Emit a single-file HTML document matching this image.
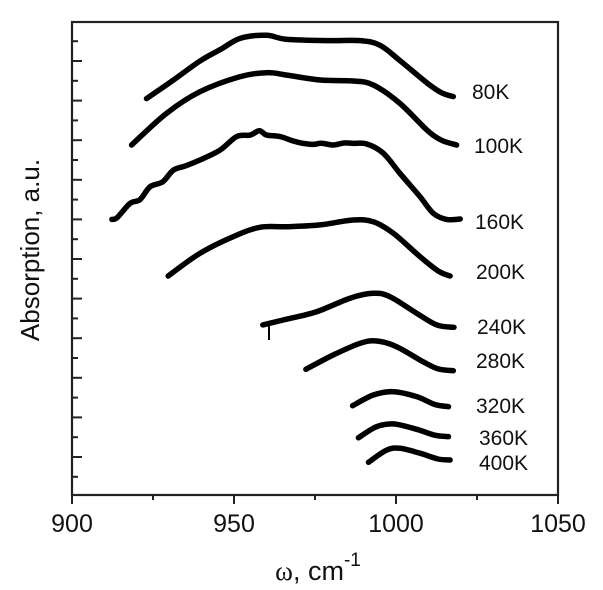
<!DOCTYPE html>
<html><head><meta charset="utf-8"><style>
html,body{margin:0;padding:0;background:#fff;}
svg{display:block;}
text{font-family:"Liberation Sans",Arial,sans-serif;fill:#111;}
</style></head><body>
<svg id="chart" width="603" height="590" viewBox="0 0 603 590" xmlns="http://www.w3.org/2000/svg">
<g id="axes"></g>
<g id="series"></g>
<g id="labels"></g>
<text x="0" y="0" font-size="26" text-anchor="middle" transform="translate(39,250) rotate(-90)">Absorption, a.u.</text>
<text x="318" y="580" font-size="27" text-anchor="middle"><tspan font-family="Liberation Serif, serif">ω</tspan>, cm<tspan font-size="19" dy="-14">-1</tspan></text>
</svg>
<script>
const xTicks = [900, 950, 1000, 1050];
const xMinorTicks = [925, 975, 1025];
const seriesNames = ["80K","100K","160K","200K","240K","280K","320K","360K","400K"];
const s80 = [[923,20.1],[931,21.0],[939.5,22.0],[946,22.6],[952,23.15],[960,23.3],[966,23.1],[979,23.03],[989,23.03],[995,22.8],[1001,22.05],[1009.5,20.9],[1014,20.4],[1017.7,20.2]];
const s100 = [[918.4,17.76],[929.2,19.36],[939.5,20.45],[951.9,21.21],[960.1,21.41],[966.3,21.29],[976.6,21.04],[986.8,20.99],[993,20.79],[1001.2,19.86],[1009.5,18.52],[1014,18.0],[1018.7,17.76]];
const s160 = [[912.3,14.0],[914,14.1],[917.9,14.81],[921,15.0],[924.1,15.65],[928,15.9],[931.3,16.49],[935,16.7],[939.5,17.0],[945.7,17.5],[950.8,18.18],[955,18.26],[957.8,18.48],[960.1,18.26],[964.2,18.18],[968.3,17.96],[971,17.85],[974.5,17.79],[977,17.85],[980.6,17.76],[984,17.86],[986.8,17.84],[991,17.81],[996.1,17.34],[1001.2,16.33],[1007.4,15.15],[1011.5,14.31],[1015.6,14.0],[1019.8,14.02]];
const s200 = [[929.7,11.14],[939.5,12.29],[949.8,13.13],[958,13.6],[966.3,13.63],[976.5,13.72],[986.8,13.97],[993,13.88],[999.2,13.3],[1007.4,12.12],[1013,11.4],[1016.7,11.14]];
const s240 = [[958.9,8.67],[965.2,8.92],[975.5,9.34],[985.8,10.02],[993,10.27],[998.1,10.1],[1006.4,9.26],[1012.6,8.67],[1017.9,8.55]];
const s280 = [[972.2,6.43],[980.6,7.15],[988.9,7.74],[994,7.86],[1000.2,7.57],[1008.4,6.81],[1013,6.45],[1017.7,6.36]];
const s320 = [[986.6,4.59],[993,5.13],[999.2,5.3],[1006.4,5.05],[1012,4.65],[1016.2,4.54]];
const s360 = [[988.4,2.97],[994,3.53],[999.2,3.67],[1006.4,3.4],[1012,3.1],[1016.2,3.03]];
const s400 = [[991.5,1.73],[997.1,2.35],[1001.2,2.44],[1007.4,2.19],[1013,1.9],[1016.7,1.85]];
const allSeries = [s80,s100,s160,s200,s240,s280,s320,s360,s400];
const markerX = 960.8;
const markerV = [8.86, 7.91];

const NS = "http://www.w3.org/2000/svg";
const X0 = 72, X1 = 558, Y0 = 496.6, K = 19.8, TOP = 22, BOT = 495;
function xs(v){ return X0 + (v - 900) / 150 * (X1 - X0); }
function ys(v){ return Y0 - v * K; }
function mk(tag, attrs, parent){ const e = document.createElementNS(NS, tag); for (const k in attrs) e.setAttribute(k, attrs[k]); parent.appendChild(e); return e; }
function smooth(pts){
  let d = 'M' + pts[0][0].toFixed(1) + ',' + pts[0][1].toFixed(1);
  for (let i = 0; i < pts.length - 1; i++) {
    const p0 = pts[Math.max(i-1,0)], p1 = pts[i], p2 = pts[i+1], p3 = pts[Math.min(i+2, pts.length-1)];
    const c1x = p1[0] + (p2[0]-p0[0])/6, c1y = p1[1] + (p2[1]-p0[1])/6;
    const c2x = p2[0] - (p3[0]-p1[0])/6, c2y = p2[1] - (p3[1]-p1[1])/6;
    d += ' C' + c1x.toFixed(1) + ',' + c1y.toFixed(1) + ' ' + c2x.toFixed(1) + ',' + c2y.toFixed(1) + ' ' + p2[0].toFixed(1) + ',' + p2[1].toFixed(1);
  }
  return d;
}

const axes = document.getElementById('axes');
const frame = mk('rect', {x:X0, y:TOP, width:X1-X0, height:BOT-TOP, fill:'none', stroke:'#222', 'stroke-width':2.2}, axes);


xTicks.forEach(t => {
  const l = mk('line', {x1:xs(t), x2:xs(t), y1:BOT, y2:BOT+9, stroke:'#222', 'stroke-width':2}, axes);
  
  
  const tx = mk('text', {x:xs(t), y:532, 'font-size':25, 'text-anchor':'middle'}, axes);
  tx.textContent = t;
  
  
});
xMinorTicks.forEach(t => {
  const l = mk('line', {x1:xs(t), x2:xs(t), y1:BOT, y2:BOT+5, stroke:'#222', 'stroke-width':2}, axes);
  
  
});
for (let v = 1; v <= 23; v++) {
  const major = v % 2 === 0;
  const l = mk('line', {x1:X0, x2:X0 + (major ? 10 : 6), y1:ys(v), y2:ys(v), stroke:'#222', 'stroke-width':2}, axes);
  
  
}

const sg = document.getElementById('series');
allSeries.forEach((s, i) => {
  const d = smooth(s.map(p => [xs(p[0]), ys(p[1])]));
  const p = mk('path', {d:d, fill:'none', stroke:'#000', 'stroke-width':5.5, 'stroke-linecap':'round', 'stroke-linejoin':'round'}, sg);
  
  
});
const mkr = mk('line', {x1:xs(markerX), x2:xs(markerX), y1:ys(markerV[0]), y2:ys(markerV[1]), stroke:'#000', 'stroke-width':2}, sg);



const lg = document.getElementById('labels');
const lx = [472,474,475,476,477,476,476,479,479];
const ly = [99,153,229,279,334,368,413,445,470];
allSeries.forEach((s, i) => {
  const t = mk('text', {x:lx[i], y:ly[i], 'font-size':21}, lg);
  t.textContent = seriesNames[i];
  
  
});
</script>
</body></html>
